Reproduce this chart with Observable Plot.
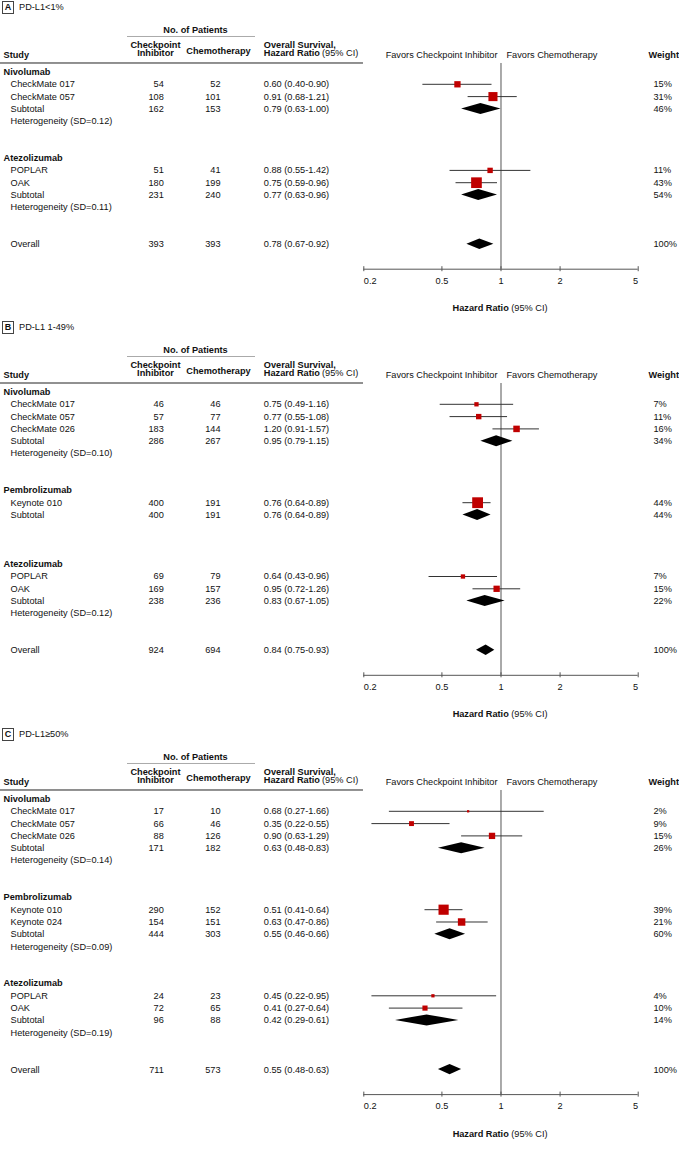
<!DOCTYPE html>
<html><head><meta charset="utf-8">
<script src="https://cdn.jsdelivr.net/npm/d3@7"></script>
<script src="https://cdn.jsdelivr.net/npm/@observablehq/plot@0.6"></script>
<style>
body{margin:0;background:#fff;font-family:"Liberation Sans",Arial,sans-serif;color:#111;}
#chart{width:679px;}
.plabel{position:relative;height:16px;}
.pbox{position:absolute;left:2px;top:1px;width:12px;height:13px;box-sizing:border-box;border:1px solid #444;font-weight:bold;font-size:9px;line-height:11px;text-align:center;}
.ptitle{position:absolute;left:19px;top:1px;line-height:13px;font-size:9.2px;}
svg{display:block;}
</style></head><body><div id="chart"></div>
<script>
// ---------- data ----------
const panelIds = ["A", "B", "C"];
const panelTitles = ["PD-L1<1%", "PD-L1 1-49%", "PD-L1≥50%"];

const studyPanel = ["A","A","A","A", "B","B","B","B","B","B", "C","C","C","C","C","C","C"];
const studyDrug = ["Nivolumab","Nivolumab","Atezolizumab","Atezolizumab",
  "Nivolumab","Nivolumab","Nivolumab","Pembrolizumab","Atezolizumab","Atezolizumab",
  "Nivolumab","Nivolumab","Nivolumab","Pembrolizumab","Pembrolizumab","Atezolizumab","Atezolizumab"];
const studyName = ["CheckMate 017","CheckMate 057","POPLAR","OAK",
  "CheckMate 017","CheckMate 057","CheckMate 026","Keynote 010","POPLAR","OAK",
  "CheckMate 017","CheckMate 057","CheckMate 026","Keynote 010","Keynote 024","POPLAR","OAK"];
const studyNCpi = [54,108,51,180, 46,57,183,400,69,169, 17,66,88,290,154,24,72];
const studyNChemo = [52,101,41,199, 46,77,144,191,79,157, 10,46,126,152,151,23,65];
const studyHR = [0.60,0.91,0.88,0.75, 0.75,0.77,1.20,0.76,0.64,0.95, 0.68,0.35,0.90,0.51,0.63,0.45,0.41];
const studyLo = [0.40,0.68,0.55,0.59, 0.49,0.55,0.91,0.64,0.43,0.72, 0.27,0.22,0.63,0.41,0.47,0.22,0.27];
const studyHi = [0.90,1.21,1.42,0.96, 1.16,1.08,1.57,0.89,0.96,1.26, 1.66,0.55,1.29,0.64,0.86,0.95,0.64];
const studyWeight = [15,31,11,43, 7,11,16,44,7,15, 2,9,15,39,21,4,10];

const subPanel = ["A","A","B","B","B","C","C","C"];
const subDrug = ["Nivolumab","Atezolizumab","Nivolumab","Pembrolizumab","Atezolizumab","Nivolumab","Pembrolizumab","Atezolizumab"];
const subNCpi = [162,231,286,400,238,171,444,96];
const subNChemo = [153,240,267,191,236,182,303,88];
const subHR = [0.79,0.77,0.95,0.76,0.83,0.63,0.55,0.42];
const subLo = [0.63,0.63,0.79,0.64,0.67,0.48,0.46,0.29];
const subHi = [1.00,0.96,1.15,0.89,1.05,0.83,0.66,0.61];
const subWeight = [46,54,34,44,22,26,60,14];
const subSD = [0.12,0.11,0.10,null,0.12,0.14,0.09,0.19];

const overallNCpi = [393,924,711];
const overallNChemo = [393,694,573];
const overallHR = [0.78,0.84,0.55];
const overallLo = [0.67,0.75,0.48];
const overallHi = [0.92,0.93,0.63];
const overallWeight = [100,100,100];

const axisTicks = [0.2,0.5,1,2,5];

// ---------- layout ----------
const W = 679, U = 12.3, Y0 = 55.5, ML = 363.3, MR = 41.3, FS = 9.2;
const INK = "#111", RED = "#c00000", LINE = "#555";
const f2 = d3.format(".2f");
const ciText = (h, l, u) => `${f2(h)} (${f2(l)}-${f2(u)})`;
const rp = p => p / U; // pixel offset → row units

function buildPanel(pi) {
  const id = panelIds[pi];
  const rows = [], studies = [], dpts = [];
  let row = 0;
  const addDiamond = (key, h, l, u, rr, half) => {
    dpts.push({id: key, y: rr - rp(half), x1: h, x2: h});
    dpts.push({id: key, y: rr, x1: l, x2: u});
    dpts.push({id: key, y: rr + rp(half), x1: h, x2: h});
  };
  subPanel.forEach((p, si) => {
    if (p !== id) return;
    const drug = subDrug[si];
    rows.push({row, name: drug, bold: true});
    row++;
    studyName.forEach((nm, k) => {
      if (studyPanel[k] !== id || studyDrug[k] !== drug) return;
      studies.push({row, hr: studyHR[k], lo: studyLo[k], hi: studyHi[k], w: studyWeight[k]});
      rows.push({row, name: nm, n1: studyNCpi[k], n2: studyNChemo[k],
        ci: ciText(studyHR[k], studyLo[k], studyHi[k]), wt: studyWeight[k] + "%"});
      row++;
    });
    rows.push({row, name: "Subtotal", n1: subNCpi[si], n2: subNChemo[si],
      ci: ciText(subHR[si], subLo[si], subHi[si]), wt: subWeight[si] + "%"});
    addDiamond("s" + si, subHR[si], subLo[si], subHi[si], row, 5.5);
    row++;
    if (subSD[si] != null) rows.push({row, name: `Heterogeneity (SD=${f2(subSD[si])})`});
    row += 3;
  });
  rows.push({row, name: "Overall", n1: overallNCpi[pi], n2: overallNChemo[pi],
    ci: ciText(overallHR[pi], overallLo[pi], overallHi[pi]), wt: overallWeight[pi] + "%"});
  addDiamond("o", overallHR[pi], overallLo[pi], overallHi[pi], row, 5.2);

  const lastRow = row;
  const axisRow = lastRow + rp(25);
  const svgH = Y0 + lastRow * U + 76.7;
  const axisPx = Y0 + axisRow * U;

  const dataRows = rows.filter(d => !d.bold);
  const numRows = rows.filter(d => d.n1 != null);
  const txt = (data, text, pxX, anchor, extra = {}) => Plot.text(data, {
    y: "row", text, frameAnchor: "left", dx: pxX - ML, textAnchor: anchor,
    fontSize: FS, fill: INK, ...extra});
  const hdr = (label, pxX, yPx, anchor, bold) => Plot.text([label], {
    y: rp(yPx), text: d => d, frameAnchor: "left", dx: pxX - ML, textAnchor: anchor,
    fontSize: FS, fill: INK, fontWeight: bold ? "bold" : "normal"});
  const xTickLabel = (vals, anchor) => Plot.text(vals, {
    x: d => d, y: axisRow + rp(11.8), text: d => String(d), textAnchor: anchor, fontSize: FS, fill: INK});

  return Plot.plot({
    width: W, height: svgH,
    marginLeft: ML, marginRight: MR, marginTop: 0, marginBottom: svgH - axisPx,
    style: {fontFamily: "'Liberation Sans', Arial, sans-serif", fontSize: FS + "px", overflow: "visible", background: "#fff"},
    x: {type: "log", domain: [0.2, 5], axis: null},
    y: {type: "linear", domain: [0, 1], range: [Y0, Y0 + U], axis: null},
    r: {type: "sqrt", domain: [0, 44], range: [0, 6.1]},
    marks: [
      // table rules
      Plot.ruleY([rp(-35.5)], {insetLeft: -(ML - 127), insetRight: (W - MR) - 255, stroke: "#aaa", strokeWidth: 1}),
      Plot.ruleY([rp(-9)], {insetLeft: -ML, insetRight: (W - MR) - 363, stroke: "#222", strokeWidth: 1}),
      // headers
      hdr("No. of Patients", 195, -42.2, "middle", true),
      hdr("Checkpoint", 155, -27.2, "middle", true),
      hdr("Inhibitor", 155, -19.4, "middle", true),
      hdr("Chemotherapy", 218, -21, "middle", true),
      hdr("Overall Survival,", 263.3, -27.2, "start", true),
      hdr("Hazard Ratio", 263.3, -19.2, "start", true),
      hdr("(95% CI)", 321.5, -19.2, "start", false),
      hdr("Study", 3, -17.2, "start", true),
      hdr("Weight", 648, -17.2, "start", true),
      Plot.text(["Favors Checkpoint Inhibitor"], {x: 1, y: rp(-17.2), text: d => d, dx: -3.5, textAnchor: "end", fontSize: FS, fill: INK}),
      Plot.text(["Favors Chemotherapy"], {x: 1, y: rp(-17.2), text: d => d, dx: 5.5, textAnchor: "start", fontSize: FS, fill: INK}),
      // reference line and axis
      Plot.ruleX([1], {y1: rp(-8.5), y2: axisRow, stroke: LINE, strokeWidth: 1}),
      Plot.ruleY([axisRow], {stroke: LINE, strokeWidth: 1}),
      Plot.ruleX(axisTicks, {x: d => d, y1: axisRow - rp(2.5), y2: axisRow + rp(2.5), stroke: LINE, strokeWidth: 1}),
      xTickLabel(axisTicks.slice(0, 1), "start"),
      xTickLabel(axisTicks.slice(1, -1), "middle"),
      xTickLabel(axisTicks.slice(-1), "end"),
      Plot.text(["Hazard Ratio"], {x: 1, y: lastRow + rp(64), text: d => d, dx: 7.8, textAnchor: "end", fontWeight: "bold", fontSize: FS, fill: INK}),
      Plot.text(["(95% CI)"], {x: 1, y: lastRow + rp(64), text: d => d, dx: 10.3, textAnchor: "start", fontSize: FS, fill: INK}),
      // text columns
      txt(rows.filter(d => d.bold), "name", 3, "start", {fontWeight: "bold"}),
      txt(dataRows, "name", 10, "start"),
      txt(numRows, "n1", 163.3, "end"),
      txt(numRows, "n2", 220, "end"),
      txt(numRows, "ci", 263.3, "start"),
      txt(numRows, "wt", 653, "start"),
      // forest marks
      Plot.ruleY(studies, {y: "row", x1: "lo", x2: "hi", stroke: "#333", strokeWidth: 1}),
      Plot.dot(studies, {x: "hr", y: "row", r: "w", symbol: "square", fill: RED, stroke: "none"}),
      Plot.areaX(dpts, {y: "y", x1: "x1", x2: "x2", z: "id", fill: "#000", curve: "linear"})
    ]
  });
}

const chart = document.getElementById("chart");
panelIds.forEach((id, pi) => {
  const wrap = document.createElement("div");
  const lab = document.createElement("div");
  lab.className = "plabel";
  const box = document.createElement("span");
  box.className = "pbox"; box.textContent = id;
  const t = document.createElement("span");
  t.className = "ptitle"; t.textContent = panelTitles[pi];
  lab.appendChild(box); lab.appendChild(t);
  wrap.appendChild(lab);
  wrap.appendChild(buildPanel(pi));
  chart.appendChild(wrap);
});
</script></body></html>
